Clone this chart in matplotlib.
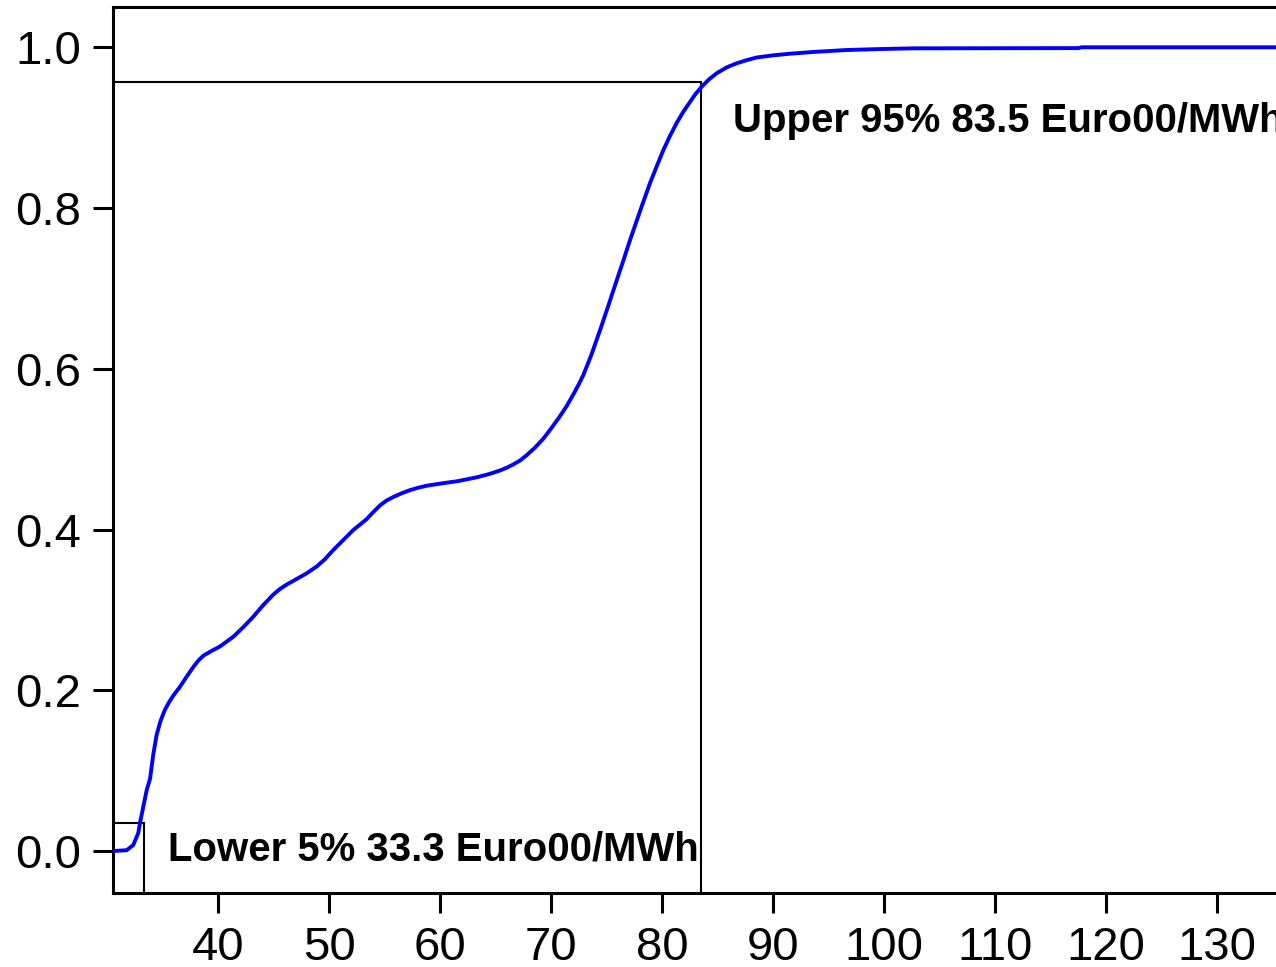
import matplotlib
matplotlib.use("Agg")
import matplotlib.pyplot as plt

# Empirical CDF of the price (Euro00/MWh)
price = [30.51, 31.75, 32.34, 32.79, 32.95, 33.24, 33.55, 33.85, 34.14, 34.45,
         34.80, 35.20, 35.60, 35.95, 36.55, 37.15, 37.75, 38.20, 38.65, 39.40,
         40.15, 41.35, 42.25, 43.15, 44.05, 44.95, 45.55, 46.16, 47.06, 47.96,
         48.86, 49.60, 50.36, 51.26, 52.16, 52.80, 53.37, 53.95, 54.57, 55.15,
         55.77, 56.50, 57.27, 58.00, 58.77, 59.70, 60.58, 61.48, 62.40, 63.28,
         64.40, 65.38, 66.00, 66.58, 67.20, 67.78, 68.50, 69.28, 70.00, 70.78,
         71.40, 71.98, 72.45, 72.88, 73.60, 74.39, 75.15, 75.89, 76.50, 77.09,
         77.99, 78.89, 79.50, 80.09, 80.70, 81.30, 81.90, 82.50, 83.00, 83.55,
         84.20, 84.90, 85.80, 86.70, 87.60, 88.50, 90.00, 91.50, 93.60, 96.61,
         99.60, 102.61, 117.45, 117.80, 136.60]
prob = [0.000, 0.001, 0.0075, 0.0224, 0.0352, 0.0551, 0.0759, 0.0900, 0.1200, 0.1450,
        0.1620, 0.1760, 0.1860, 0.1935, 0.2044, 0.2170, 0.2290, 0.2370, 0.2430, 0.2490,
        0.2545, 0.2666, 0.2785, 0.2915, 0.3060, 0.3190, 0.3260, 0.3315, 0.3385, 0.3455,
        0.3540, 0.3630, 0.3745, 0.3870, 0.3994, 0.4065, 0.4130, 0.4215, 0.4300, 0.4360,
        0.4405, 0.4450, 0.4490, 0.4520, 0.4545, 0.4565, 0.4583, 0.4600, 0.4625, 0.4650,
        0.4690, 0.4735, 0.4770, 0.4810, 0.4860, 0.4925, 0.5015, 0.5130, 0.5260, 0.5410,
        0.5540, 0.5680, 0.5800, 0.5920, 0.6170, 0.6480, 0.6790, 0.7100, 0.7350, 0.7600,
        0.7960, 0.8310, 0.8520, 0.8720, 0.8900, 0.9060, 0.9200, 0.9320, 0.9420, 0.9510,
        0.9600, 0.9677, 0.9750, 0.9801, 0.9840, 0.9873, 0.9900, 0.9920, 0.9942, 0.9966,
        0.9978, 0.9987, 0.9990, 1.0000, 1.0000]

# Quantile markers
lower_x, lower_level = 33.3, 0.035
upper_x, upper_level = 83.5, 0.957
lower_label = "Lower 5% 33.3 Euro00/MWh"
upper_label = "Upper 95% 83.5 Euro00/MWh"

x_ticks = [40, 50, 60, 70, 80, 90, 100, 110, 120, 130]
y_ticks = [0.0, 0.2, 0.4, 0.6, 0.8, 1.0]

plt.rcParams['font.family'] = ['Liberation Sans', 'DejaVu Sans']

W, H = 1276, 967
fig = plt.figure(figsize=(W / 100, H / 100), dpi=100)
left, bottom, top, right = 113.3, 893.3, 6.7, 1290
ax = fig.add_axes([left / W, 1 - bottom / H, (right - left) / W, (bottom - top) / H])

ax.set_xlim(30.54, 136.55)
ax.set_ylim(-0.0526, 1.0505)

ax.plot(price, prob, color=(0, 0, 1), lw=2.8, solid_joinstyle='round', zorder=3)

xmin = ax.get_xlim()[0]
ymin = ax.get_ylim()[0]
lw_mark = 1.5
ax.plot([xmin, lower_x], [lower_level, lower_level], color='black', lw=lw_mark, zorder=2)
ax.plot([lower_x, lower_x], [ymin, lower_level], color='black', lw=lw_mark, zorder=2)
ax.plot([xmin, upper_x], [upper_level, upper_level], color='black', lw=lw_mark, zorder=2)
ax.plot([upper_x, upper_x], [ymin, upper_level], color='black', lw=lw_mark, zorder=2)

ax.text(35.46, -0.0113, lower_label, fontsize=28.9, fontweight='bold',
        ha='left', va='baseline', clip_on=False)
ax.text(86.4, 0.895, upper_label, fontsize=28.9, fontweight='bold',
        ha='left', va='baseline', clip_on=False)

ax.set_xticks(x_ticks)
ax.set_xticklabels([str(t) for t in x_ticks])
ax.set_yticks(y_ticks)
ax.set_yticklabels([f"{t:.1f}" for t in y_ticks])

ax.tick_params(axis='both', direction='out', length=14.4, width=2.2,
               labelsize=34, color='black')
ax.tick_params(axis='x', pad=9)
ax.tick_params(axis='y', pad=8.5)

for side in ['left', 'bottom', 'top']:
    ax.spines[side].set_linewidth(2.2)
ax.spines['right'].set_visible(False)

fig.savefig("out.png", dpi=100)
